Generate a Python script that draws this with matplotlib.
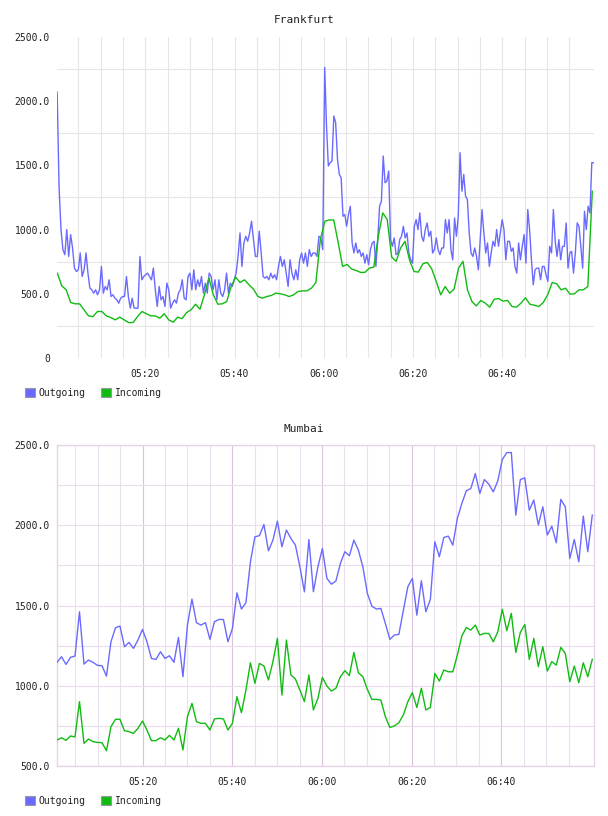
import matplotlib
matplotlib.use("Agg")
import matplotlib.pyplot as plt
from matplotlib.patches import Patch
import numpy as np
import pandas as pd

# ---------------- data ----------------
series_names = ["Outgoing", "Incoming"]
titles = ["Frankfurt", "Mumbai"]
day = "2024-01-01 "

time_labels = ["05:20", "05:40", "06:00", "06:20", "06:40"]
grid_minutes = ["05:05", "05:10", "05:15", "05:25", "05:30", "05:35", "05:45", "05:50",
                "05:55", "06:05", "06:10", "06:15", "06:25", "06:30", "06:35", "06:45",
                "06:50", "06:55"]

fra_start, fra_end = "05:00:13", "07:00:33"
# outgoing samples: first 140 samples from 05:00:15 to 06:00:12, the rest up to 07:00:28
fra_out_first = ("05:00:15", "06:00:12")
fra_out_second_end = "07:00:28"
fra_in_range = ("05:00:17", "07:00:10")
fra_yticks = [0, 500, 1000, 1500, 2000, 2500]
fra_ylabels = ["0", "500.0", "1000.0", "1500.0", "2000.0", "2500.0"]

fra_outgoing_first = [
    2070, 1330, 1000, 844, 805, 1000, 791, 961, 857, 700, 674, 687, 818, 635, 687, 818, 661, 544, 531, 505,
    531, 492, 531, 713, 505, 557, 531, 609, 479, 492, 466, 453, 427, 466, 479, 479, 635, 479, 388, 466,
    388, 388, 388, 791, 609, 635, 648, 661, 635, 609, 700, 531, 401, 557, 453, 479, 401, 583, 531, 388,
    427, 453, 427, 505, 531, 609, 466, 453, 635, 661,
    531, 687, 531, 609, 557, 635, 505, 583, 505, 661, 635, 531, 609, 453, 609, 505, 479, 531, 661, 505,
    583, 557, 609, 661, 791, 974, 713, 896, 948, 909, 974, 1065, 922, 791, 791, 987, 818, 635, 622, 635,
    609, 661, 622, 648, 609, 713, 791, 713, 765, 661, 557, 765, 661, 609, 687, 609, 765, 818, 739, 818,
    713, 844, 791, 818, 818, 791, 948, 935, 844, 2263,
]
fra_outgoing_second = [
    1807, 1495, 1521, 1534, 1885, 1833, 1547, 1430, 1404, 1104, 1117, 1026, 1117, 1182, 896, 818, 896, 818,
    844, 791, 818, 739, 805, 726, 844, 896, 909, 713, 922, 1182, 1221, 1573, 1365, 1378, 1456, 922, 870,
    935, 805, 818, 922, 948, 1026, 935, 974, 818, 765, 739, 1026, 1078, 1000, 1130, 948, 909, 1000, 1052,
    948, 987, 818, 844, 935, 844, 805, 857, 857, 1078, 974, 1078, 844, 765, 1091, 948, 1104, 1599,
    1299, 1430, 1260, 1234, 974, 818, 791, 857, 791, 687, 922, 1156, 974, 818, 896, 713, 818, 909, 870,
    1000, 870, 974, 1078, 1000, 765, 909, 909, 831, 857, 713, 661, 896, 765, 870, 961, 739, 1156, 1000,
    765, 570, 687, 700, 700, 609, 713, 713, 648, 596, 870, 818, 1156, 909, 791, 922, 765, 870, 870, 1052,
    700, 818, 831, 661, 818, 1052, 1026, 870, 700, 1143, 1000, 1182, 1130, 1521, 1521,
]

fra_incoming = [
    661, 562, 531, 432, 422, 422, 375, 328, 323, 362, 362, 328, 315, 297, 318, 297, 276, 276, 323, 362,
    344, 328, 328, 310, 344, 297, 279, 318, 307, 354, 375,
    419, 380, 492, 622, 492, 419, 422, 440, 557, 630, 588, 609, 570, 536, 479, 466, 479, 487, 505, 500,
    492, 479, 492, 518, 523, 523, 544, 588, 922, 1065,
    1075, 1075, 900, 713, 729, 693, 682, 667, 667, 700, 708, 948, 1130, 1078, 786, 753, 857, 909, 765,
    674, 669, 734, 744, 693, 596, 492, 557, 505, 536, 700, 753,
    531, 440, 406, 448, 427, 396, 458, 463, 443, 448, 401, 396, 427, 469, 419, 411, 401, 432, 492, 588,
    578, 531, 544, 497, 500, 531, 531, 557, 1299,
]

mum_start, mum_end = "05:00:54", "07:00:41"
mum_range = ("05:00:54", "07:00:18")
mum_yticks = [500, 1000, 1500, 2000, 2500]
mum_ylabels = ["500.0", "1000.0", "1500.0", "2000.0", "2500.0"]

mum_outgoing = [
    1146, 1181, 1133, 1177, 1185, 1461, 1135, 1160, 1146, 1127, 1125, 1060, 1274, 1361, 1372, 1243, 1270,
    1233, 1285, 1351, 1274, 1170, 1164, 1212, 1170, 1187, 1146, 1301, 1056, 1378, 1540, 1393, 1378, 1393,
    1289, 1399, 1413, 1413, 1274, 1357, 1579, 1478, 1517, 1772, 1928, 1935, 2005, 1841, 1907, 2026, 1866,
    1970, 1918, 1876, 1741, 1585, 1911,
    1586, 1741, 1855, 1669, 1633, 1652, 1762, 1835, 1810, 1907, 1845, 1741, 1575, 1496, 1478, 1482, 1388,
    1289, 1316, 1320, 1470, 1617, 1669, 1440, 1654, 1461, 1538, 1897, 1804, 1924, 1932, 1876, 2042, 2136,
    2215, 2229, 2322, 2198, 2285, 2256, 2208, 2277, 2410, 2453, 2453, 2063, 2285, 2295, 2094, 2157, 2001,
    2115, 1939, 1994, 1891, 2161, 2115, 1793, 1911, 1772, 2057, 1835, 2063,
]

mum_incoming = [
    662, 676, 660, 687, 681, 901, 641, 668, 652, 647, 645, 595, 745, 791, 791, 720, 714, 703, 735, 780,
    724, 658, 658, 676, 662, 691, 662, 735, 600, 807, 890, 776, 766, 766, 724, 793, 797, 793, 724, 766,
    932, 832, 973, 1143, 1015, 1139, 1123, 1036, 1150, 1295, 942, 1285, 1067, 1042, 973, 901, 1067,
    849, 921, 1052, 998, 967, 984, 1056, 1094, 1063, 1208, 1081, 1056, 977, 915, 915, 911, 807, 741, 749,
    770, 818, 901, 957, 865, 984, 849, 865, 1077, 1029, 1098, 1087, 1087, 1191, 1310, 1363, 1347, 1378,
    1316, 1326, 1326, 1274, 1337, 1476, 1343, 1451, 1208, 1332, 1382, 1164, 1295, 1119, 1243, 1092, 1150,
    1129, 1239, 1202, 1025, 1123, 1019, 1143, 1056, 1164,
]

# ---------------- style ----------------
C_OUT = "#6a6aff"
C_IN = "#11bb11"
plt.rcParams['font.family'] = ['DejaVu Sans Mono', 'DejaVu Sans']
TXT = "#222222"


def ts(s):
    return pd.Timestamp(day + s)


def times(rng, n):
    return pd.date_range(ts(rng[0]), ts(rng[1]), periods=n)


fig = plt.figure(figsize=(6.08, 8.16), dpi=100)
W, H = 608.0, 816.0

ax1 = fig.add_axes([57 / W, 1 - 358 / H, 537 / W, 321 / H])
ax2 = fig.add_axes([57 / W, 1 - 766 / H, 537 / W, 321 / H])

major_t = [ts(t) for t in time_labels]
minor_t = [ts(t) for t in grid_minutes]

# ---- Frankfurt ----
t_first = times(fra_out_first, len(fra_outgoing_first))
t_second = times((fra_out_first[1], fra_out_second_end), len(fra_outgoing_second) + 1)[1:]
fra_out_t = t_first.append(t_second)
fra_outgoing = fra_outgoing_first + fra_outgoing_second

ax1.plot(fra_out_t, fra_outgoing, color=C_OUT, lw=1.0, label=series_names[0], zorder=3)
ax1.plot(times(fra_in_range, len(fra_incoming)), fra_incoming, color=C_IN, lw=1.0,
         label=series_names[1], zorder=4)
ax1.set_xlim(ts(fra_start), ts(fra_end))
ax1.set_ylim(0, 2500)
ax1.set_yticks(fra_yticks)
ax1.set_yticklabels(fra_ylabels)
ax1.set_yticks(np.arange(250, 2500, 500), minor=True)
ax1.set_xticks(major_t)
ax1.set_xticklabels(time_labels)
ax1.set_xticks(minor_t, minor=True)
ax1.grid(False)
ax1.grid(True, axis='y', which='minor', color='#e6e6e6', lw=0.8)
ax1.grid(True, axis='x', which='both', color='#e6e6e6', lw=0.8)
for s in ax1.spines.values():
    s.set_visible(False)

# ---- Mumbai ----
ax2.plot(times(mum_range, len(mum_outgoing)), mum_outgoing, color=C_OUT, lw=1.0,
         label=series_names[0], zorder=3)
ax2.plot(times(mum_range, len(mum_incoming)), mum_incoming, color=C_IN, lw=1.0,
         label=series_names[1], zorder=4)
ax2.set_xlim(ts(mum_start), ts(mum_end))
ax2.set_ylim(500, 2500)
ax2.set_yticks(mum_yticks)
ax2.set_yticklabels(mum_ylabels)
ax2.set_yticks(np.arange(750, 2500, 500), minor=True)
ax2.set_xticks(major_t)
ax2.set_xticklabels(time_labels)
ax2.set_xticks(minor_t, minor=True)
ax2.grid(True, axis='y', which='both', color='#eadcec', lw=0.8)
ax2.grid(True, axis='x', which='minor', color='#ebe0ed', lw=0.8)
ax2.grid(True, axis='x', which='major', color='#dbc2dc', lw=0.8)
for s in ax2.spines.values():
    s.set_color('#e6d3e8')
    s.set_linewidth(1.0)

for ax, title, ytop in [(ax1, titles[0], 20), (ax2, titles[1], 429)]:
    ax.set_axisbelow(True)
    ax.tick_params(which='both', length=0)
    ax.tick_params(axis='y', pad=5, labelsize=7, labelcolor=TXT)
    ax.tick_params(axis='x', pad=8, labelsize=7, labelcolor=TXT)
    fig.text(0.5, 1 - ytop / H, title, ha='center', va='center', fontsize=8, color=TXT)

for ax, ly in [(ax1, 388), (ax2, 796)]:
    handles = [Patch(facecolor=C_OUT, edgecolor='#999999', lw=0.8),
               Patch(facecolor=C_IN, edgecolor='#999999', lw=0.8)]
    ax.legend(handles, series_names, loc='upper left', bbox_to_anchor=(25 / W, 1 - ly / H),
              bbox_transform=fig.transFigure, ncol=2, frameon=False, fontsize=7,
              handlelength=1.0, handleheight=1.0, handletextpad=0.4, columnspacing=1.6,
              borderpad=0, borderaxespad=0, labelcolor=TXT)

fig.savefig("out.png", dpi=100)
